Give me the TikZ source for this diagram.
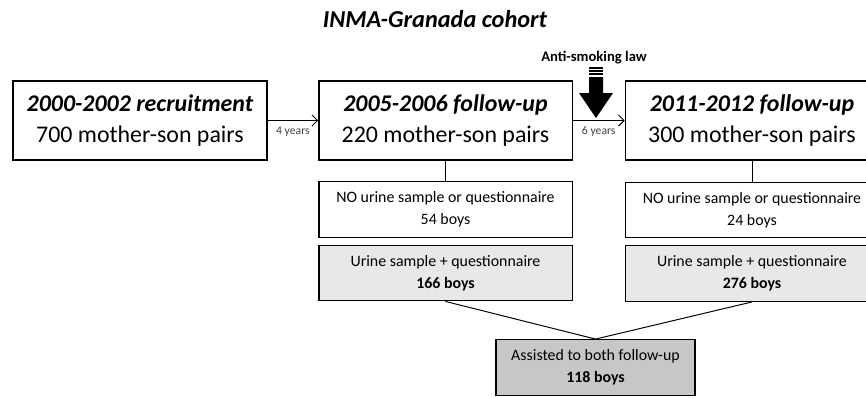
\documentclass[tikz,border=0pt]{standalone}
\usepackage{fontspec}
\setmainfont{Carlito}
\usetikzlibrary{arrows.meta}
\tikzset{
  bigbox/.style={draw,line width=0.9pt,minimum width=6.33cm,minimum height=1.975cm,align=center,inner sep=2pt,font=\fontsize{17}{22}\selectfont},
  smallbox/.style={draw,line width=0.9pt,minimum width=6.33cm,minimum height=1.39cm,align=center,inner sep=2pt,font=\fontsize{11.3}{15.6}\selectfont},
  urinebox/.style={smallbox,fill=black!9},
  bothbox/.style={smallbox,fill=black!22,minimum width=4.97cm},
  yearlab/.style={font=\fontsize{8.3}{9}\selectfont,text=black!75,inner sep=1pt}
}
\begin{document}
\begin{tikzpicture}[x=0.025cm,y=-0.025cm]
\useasboundingbox (0,0) rectangle (866,397);
\clip (0,0) rectangle (866,397);
\node[font=\fontsize{17.3}{20}\selectfont\bfseries\itshape] (title) at (435,19) {INMA-Granada cohort};
\node[bigbox,minimum width=6.35cm] (rec) at (140,120.5) {\textbf{\textit{2000-2002 recruitment}}\\700 mother-son pairs};
\node[bigbox] (fu1) at (445.5,120.5) {\textbf{\textit{2005-2006 follow-up}}\\220 mother-son pairs};
\node[bigbox] (fu2) at (752,120.5) {\textbf{\textit{2011-2012 follow-up}}\\300 mother-son pairs};
\draw[-{Straight Barb[length=4pt,width=8pt]},line width=0.7pt] (rec) -- node[yearlab,below=3pt]{4 years} (fu1);
\draw[-{Straight Barb[length=4pt,width=8pt]},line width=0.7pt] (fu1) -- node[yearlab,below=3pt]{6 years} (fu2);
% anti-smoking law
\node[font=\fontsize{10.4}{12}\selectfont\bfseries] (law) at (594,58) {Anti-smoking law};
\foreach \yy in {68,71,74}
  \draw[line width=1.4pt] (589,\yy)--(603,\yy);
\fill (589,77)--(603,77)--(603,93)--(613,93)--(596,118)--(579,93)--(589,93)--cycle;
% boys
\node[smallbox] (no1) at (445.5,209.5) {NO urine sample or questionnaire\\54 boys};
\node[smallbox] (no2) at (752,210) {NO urine sample or questionnaire\\24 boys};
\node[urinebox] (ur1) at (445.5,273) {Urine sample + questionnaire\\\textbf{166 boys}};
\node[urinebox] (ur2) at (752,273.5) {Urine sample + questionnaire\\\textbf{276 boys}};
\node[bothbox] (both) at (595.5,367.5) {Assisted to both follow-up\\\textbf{118 boys}};
\draw[line width=0.7pt] (fu1) -- (no1);
\draw[line width=0.7pt] (fu2) -- (no2);
\draw[line width=0.7pt] (ur1.south) -- (both.north);
\draw[line width=0.7pt] (ur2.south) -- (both.north);
\end{tikzpicture}
\end{document}
